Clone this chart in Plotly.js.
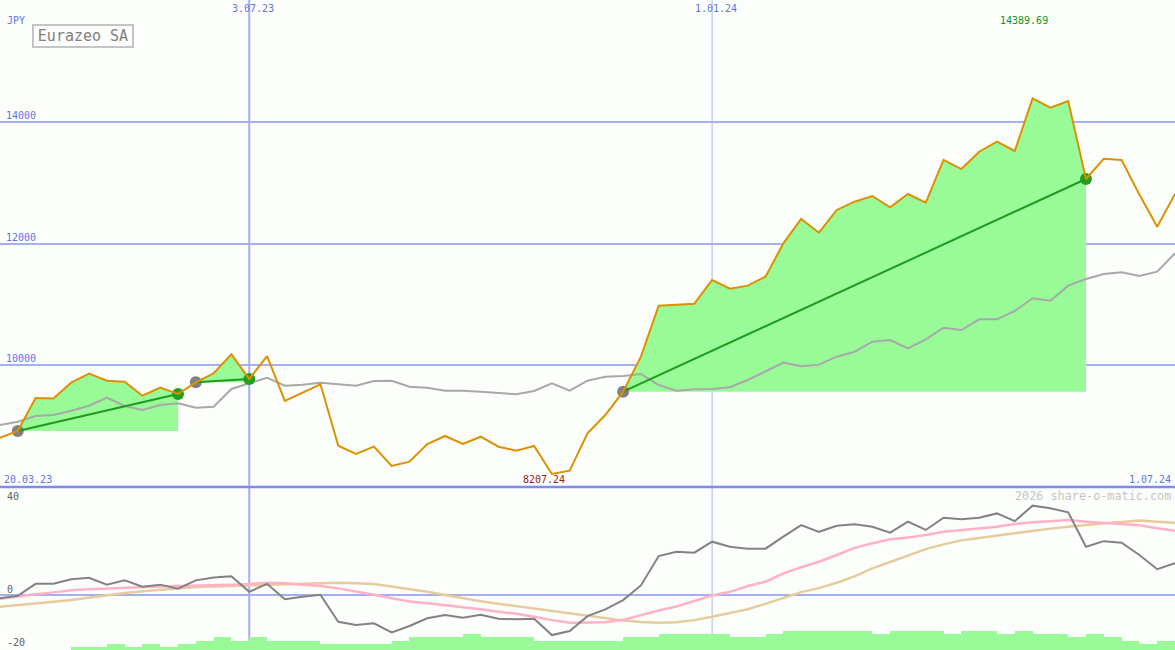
<!DOCTYPE html>
<html>
<head>
<meta charset="utf-8">
<script src="https://cdn.plot.ly/plotly-3.0.1.min.js"></script>
<style>
html,body{margin:0;padding:0;background:#fcfefb;}
#chart{width:1175px;height:650px;}
</style>
</head>
<body>
<div id="chart"></div>
<script>
// ---- data (weekly, Mondays) ----
const dates = [
 '2023-03-27','2023-04-03','2023-04-10','2023-04-17','2023-04-24','2023-05-01','2023-05-08','2023-05-15',
 '2023-05-22','2023-05-29','2023-06-05','2023-06-12','2023-06-19','2023-06-26','2023-07-03','2023-07-10',
 '2023-07-17','2023-07-24','2023-07-31','2023-08-07','2023-08-14','2023-08-21','2023-08-28','2023-09-04',
 '2023-09-11','2023-09-18','2023-09-25','2023-10-02','2023-10-09','2023-10-16','2023-10-23','2023-10-30',
 '2023-11-06','2023-11-13','2023-11-20','2023-11-27','2023-12-04','2023-12-11','2023-12-18','2023-12-25',
 '2024-01-01','2024-01-08','2024-01-15','2024-01-22','2024-01-29','2024-02-05','2024-02-12','2024-02-19',
 '2024-02-26','2024-03-04','2024-03-11','2024-03-18','2024-03-25','2024-04-01','2024-04-08','2024-04-15',
 '2024-04-22','2024-04-29','2024-05-06','2024-05-13','2024-05-20','2024-05-27','2024-06-03','2024-06-10',
 '2024-06-17','2024-06-24','2024-07-01'];

const price = [
 8803, 8914, 9457, 9450, 9709, 9857, 9742, 9725, 9495, 9627,
 9523, 9715, 9864,10176, 9770,10148, 9408, 9539, 9682, 8672,
 8535, 8656, 8338, 8409, 8700, 8832, 8700, 8820, 8655, 8590,
 8667, 8207.24, 8260, 8876, 9177, 9561,10137,10976,10993,11009,
11399,11256,11306,11454,12003,12403,12178,12552,12688,12782,
12596,12815,12672,13375,13226,13511,13676,13523,14389.69,14235,
14346,13062,13396,13375,12805,12277,12815];

const average = [
 9013, 9067, 9161, 9177, 9248, 9330, 9462, 9325, 9260, 9342,
 9370, 9297, 9314, 9605, 9699, 9791, 9659, 9676, 9709, 9687,
 9659, 9737, 9742, 9643, 9627, 9577, 9577, 9561, 9544, 9518,
 9572, 9699, 9577, 9742, 9808, 9819, 9852, 9671, 9577, 9600,
 9605, 9633, 9753, 9890,10040, 9978,10006,10137,10219,10384,
10412,10275,10423,10614,10576,10752,10752,10889,11098,11059,
11306,11416,11498,11526,11465,11536,11839];

const momentum = [
 -1.2, -0.3, 4.2, 4.2, 5.9, 6.5, 3.9, 5.5, 3.1, 3.9,
  2.4, 5.5, 6.6, 7.0, 1.2, 4.2, -1.6, -0.6, 0.1,-10.0,
-11.2,-10.6,-14.0,-11.6, -8.7, -7.5, -8.5, -7.4, -8.9, -9.1,
 -8.9,-15.0,-13.5, -7.9, -5.4, -1.9, 3.6, 14.6, 16.2, 15.9,
 20.0, 18.1, 17.4, 17.4, 21.9, 26.2, 23.7, 26.0, 26.5, 25.6,
 23.4, 27.5, 24.4, 29.0, 28.4, 29.0, 30.6, 27.7, 33.5, 32.5,
 31.0, 18.1, 20.2, 19.6, 15.0, 9.7, 11.9];

const signalFast = [
 -1.4, -0.5, 0.3, 1.0, 1.8, 2.2, 2.5, 2.8, 3.1, 3.2,
  3.4, 3.5, 3.6, 3.9, 4.1, 4.6, 4.4, 4.0, 3.4, 2.5,
  1.4, 0.1, -1.2, -2.4, -3.1, -3.8, -4.6, -5.3, -6.3, -7.0,
 -8.1, -9.4,-10.4,-10.4,-10.2, -9.3, -7.5, -5.8, -4.3, -2.3,
 -0.2, 1.2, 3.4, 5.0, 8.1, 10.4, 12.5, 15.0, 17.7, 19.4,
 20.9, 21.6, 22.5, 23.7, 24.4, 25.0, 25.6, 26.6, 27.3, 27.7,
 28.1, 27.5, 27.1, 26.6, 26.2, 25.0, 24.1];

const signalSlow = [
 -4.4, -3.7, -3.1, -2.5, -1.9, -1.0, -0.1, 0.8, 1.4, 2.0,
  2.5, 3.0, 3.2, 3.4, 3.6, 3.8, 4.0, 4.2, 4.5, 4.6,
  4.4, 4.1, 3.2, 2.3, 1.2, 0.0, -1.2, -2.3, -3.3, -4.2,
 -5.0, -6.0, -7.0, -7.9, -8.7, -9.5,-10.1,-10.4,-10.2, -9.4,
 -8.1, -6.8, -5.3, -3.3, -1.1, 1.1, 2.6, 4.6, 7.0, 10.0,
 12.4, 14.8, 17.2, 19.0, 20.5, 21.4, 22.3, 23.2, 24.1, 24.9,
 25.6, 26.3, 26.9, 27.4, 27.9, 27.5, 27.1];

const volume = [
 0,0,0,0,1,1,2,1,2,1,
 2,3,4,3,4,3,3,3,2,2,
 2,2,3,4,4,4,5,4,4,4,
 3,3,3,3,3,4,4,5,5,5,
 5,4,4,5,6,6,6,6,6,5,
 6,6,6,5,6,6,5,6,5,5,
 4,5,4,3,2,3];

const tradeBuy  = ['2023-04-03','2023-06-12','2023-11-27'];
const tradeSell = ['2023-06-05','2023-07-03','2024-05-27'];

const markerDates = ['2023-07-03','2024-01-01'];
const markerLabels = ['3.07.23','1.01.24'];
const priceTicks = [10000,12000,14000];
const oscTicks = [40,0,-20];
const currency = 'JPY';
const stockName = 'Eurazeo SA';
const startLabel = '20.03.23';
const endLabel = '1.07.24';
const credit = '2026 share-o-matic.com';

// ---- geometry helpers ----
const W = 1175, H = 650;
const px = v => v / W;
const py = v => 1 - v / H;
const MONO = 'DejaVu Sans Mono, monospace';
const BLUE = '#6272ee';

const traces = [];

// green fills of winning trades
tradeBuy.forEach((b, t) => {
  const i0 = dates.indexOf(b), i1 = dates.indexOf(tradeSell[t]);
  const xs = dates.slice(i0, i1 + 1).concat([dates[i1], dates[i0]]);
  const ys = price.slice(i0, i1 + 1).concat([price[i0], price[i0]]);
  traces.push({x: xs, y: ys, type: 'scatter', mode: 'lines', fill: 'toself',
    fillcolor: '#98fb98', line: {width: 0}, hoverinfo: 'skip', xaxis: 'x', yaxis: 'y'});
});

// average line
traces.push({x: dates, y: average, type: 'scatter', mode: 'lines',
  line: {color: '#a8a8a8', width: 2}, xaxis: 'x', yaxis: 'y'});

// trade markers
const buyPrices = tradeBuy.map(d => price[dates.indexOf(d)]);
const sellPrices = tradeSell.map(d => price[dates.indexOf(d)]);
traces.push({x: tradeBuy, y: buyPrices, type: 'scatter', mode: 'markers',
  marker: {color: '#808080', size: 12}, xaxis: 'x', yaxis: 'y'});
traces.push({x: tradeSell, y: sellPrices, type: 'scatter', mode: 'markers',
  marker: {color: '#22a022', size: 12}, xaxis: 'x', yaxis: 'y'});
// trade lines
tradeBuy.forEach((b, t) => {
  traces.push({x: [b, tradeSell[t]], y: [buyPrices[t], sellPrices[t]], type: 'scatter', mode: 'lines',
    line: {color: '#1e9a1e', width: 2}, xaxis: 'x', yaxis: 'y'});
});

// price
traces.push({x: dates, y: price, type: 'scatter', mode: 'lines',
  line: {color: '#de9000', width: 2}, xaxis: 'x', yaxis: 'y'});

// volume bars (lower panel, base axis)
traces.push({x: dates.slice(0, volume.length), y: volume, type: 'bar',
  width: 7 * 86400000, offset: 0,
  marker: {color: '#98fb98', line: {width: 0}}, xaxis: 'x', yaxis: 'y2'});

// oscillator lines
traces.push({x: dates, y: signalSlow, type: 'scatter', mode: 'lines',
  line: {color: '#e6cc9c', width: 2.5}, xaxis: 'x', yaxis: 'y3'});
traces.push({x: dates, y: signalFast, type: 'scatter', mode: 'lines',
  line: {color: '#ffb2c6', width: 2.5}, xaxis: 'x', yaxis: 'y3'});
traces.push({x: dates, y: momentum, type: 'scatter', mode: 'lines',
  line: {color: '#828282', width: 2}, xaxis: 'x', yaxis: 'y3'});

const split = 163 / H;

const shapes = [
  {type: 'line', xref: 'x', yref: 'paper', x0: markerDates[0], x1: markerDates[0], y0: 0, y1: 1,
   line: {color: '#a2b0f0', width: 2}, layer: 'below'},
  {type: 'line', xref: 'x', yref: 'paper', x0: markerDates[1], x1: markerDates[1], y0: 0, y1: 1,
   line: {color: '#aab6f0', width: 1}, layer: 'below'},
  {type: 'line', xref: 'paper', yref: 'y3', x0: 0, x1: 1, y0: 0, y1: 0,
   line: {color: '#a2b0f0', width: 2}, layer: 'below'},
  {type: 'line', xref: 'paper', yref: 'paper', x0: 0, x1: 1, y0: split, y1: split,
   line: {color: '#7c8cf0', width: 2.5}, layer: 'above'}
];

const ann = [];
const txt = (text, x, y, xa, ya, color, size, extra) =>
  Object.assign({text: text, x: x, y: y, xref: 'paper', yref: 'paper', xanchor: xa, yanchor: ya,
    showarrow: false, font: {family: MONO, size: size, color: color}}, extra || {});

ann.push(txt(currency, px(5), py(20), 'left', 'middle', BLUE, 10));
markerLabels.forEach((l, i) => {
  ann.push(txt(l, markerDates[i], py(9), 'center', 'middle', BLUE, 10, {xref: 'x', xshift: 4}));
});
priceTicks.forEach(v => {
  ann.push(txt(String(v), px(4), v, 'left', 'bottom', BLUE, 10, {yref: 'y', yshift: -1}));
});
ann.push(txt(startLabel, px(2), py(479), 'left', 'middle', BLUE, 10));
ann.push(txt(endLabel, px(1173), py(479), 'right', 'middle', BLUE, 10));

const iMin = price.indexOf(Math.min(...price));
const iMax = price.indexOf(Math.max(...price));
ann.push(txt(price[iMin].toFixed(2), dates[iMin], py(479), 'center', 'middle', '#a01c1c', 10, {xref: 'x', xshift: -8}));
ann.push(txt(price[iMax].toFixed(2), dates[iMax], py(21), 'center', 'middle', '#189018', 10, {xref: 'x', xshift: -9}));

ann.push(txt(credit, px(1173), py(496), 'right', 'middle', '#c4c4c4', 11.8, {}));
oscTicks.forEach((v, i) => {
  const yy = [496, 589, 642][i];
  ann.push(txt(String(v), px(5), py(yy), 'left', 'middle', '#606060', 10));
});

ann.push(txt(stockName, px(32), py(24), 'left', 'top', '#808080', 15,
  {bordercolor: '#c4c4c4', borderwidth: 2, borderpad: 1, bgcolor: 'rgba(0,0,0,0)', width: 96, height: 18, align: 'center'}));

const layout = {
  width: W, height: H,
  margin: {l: 0, r: 0, t: 0, b: 0, pad: 0},
  paper_bgcolor: '#fcfefb', plot_bgcolor: '#fcfefb',
  showlegend: false,
  bargap: 0,
  xaxis: {type: 'date', range: [dates[0], dates[dates.length - 1]], showgrid: false, zeroline: false,
          showticklabels: false, showline: false, ticks: '', anchor: 'y'},
  yaxis: {domain: [split, 1], range: [7992, 16008], tickvals: priceTicks, showticklabels: false,
          showgrid: true, gridcolor: '#a4b0f0', gridwidth: 2, zeroline: false, ticks: '', showline: false},
  yaxis2: {domain: [0, split], range: [0, 51.7], visible: false, showgrid: false, zeroline: false},
  yaxis3: {overlaying: 'y2', range: [-20.6, 40.5], visible: false, showgrid: false, zeroline: false},
  shapes: shapes,
  annotations: ann
};

Plotly.newPlot('chart', traces, layout, {staticPlot: true, displayModeBar: false});
</script>
</body>
</html>
